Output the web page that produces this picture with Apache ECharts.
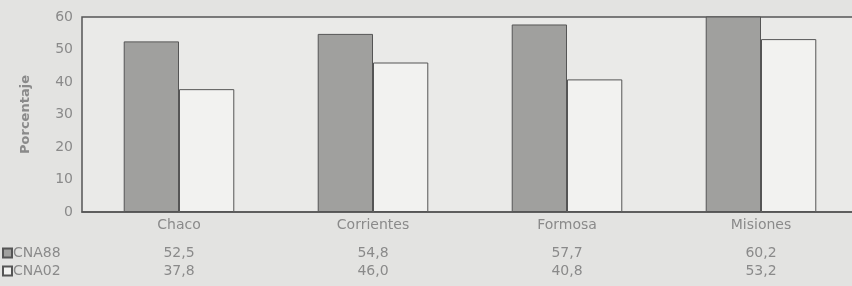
<!DOCTYPE html>
<html><head><meta charset="utf-8">
<script src="https://cdn.jsdelivr.net/npm/echarts@6/dist/echarts.min.js"></script>
<style>html,body{margin:0;padding:0;background:#e3e3e1;overflow:hidden;width:852px;height:286px;}#c{width:858px;height:286px;}</style>
</head><body><div id="c"></div>
<script>
const categories = ['Chaco', 'Corrientes', 'Formosa', 'Misiones'];
const cna88 = [52.5, 54.8, 57.7, 60.2];
const cna02 = [37.8, 46.0, 40.8, 53.2];
const yTicks = [0, 10, 20, 30, 40, 50, 60];
const fmt = v => v.toFixed(1).replace('.', ',');
const txt = '#8a8a8a';
const font = 'DejaVu Sans, sans-serif';
const fs = 14;
const legendText = {color: txt, fontSize: fs, fontFamily: font, padding: [0, 0, 0, -4]};
const chart = echarts.init(document.getElementById('c'), null, {renderer: 'canvas'});
chart.setOption({
  backgroundColor: '#e3e3e1',
  animation: false,
  grid: {left: 82, top: 17, right: 0, bottom: 74, show: true, borderColor: '#555', borderWidth: 1.5, backgroundColor: '#eaeae8', containLabel: false},
  legend: [
    {left: 0, top: 244, padding: 2, itemWidth: 9, itemHeight: 9, icon: 'rect', textStyle: legendText, data: ['CNA88']},
    {left: 0, top: 262, padding: 2, itemWidth: 9, itemHeight: 9, icon: 'rect', textStyle: legendText, data: ['CNA02']}
  ],
  xAxis: [
    {type: 'category', data: categories, axisLine: {show: true, lineStyle: {color: '#555', width: 1.5}}, axisTick: {show: false},
     axisLabel: {color: txt, fontSize: fs, fontFamily: font, margin: 6}},
    {type: 'category', data: cna88.map(fmt), position: 'bottom', offset: 28, gridIndex: 0,
     axisLine: {show: false}, axisTick: {show: false}, axisLabel: {color: txt, fontSize: fs, fontFamily: font, margin: 6}},
    {type: 'category', data: cna02.map(fmt), position: 'bottom', offset: 46, gridIndex: 0,
     axisLine: {show: false}, axisTick: {show: false}, axisLabel: {color: txt, fontSize: fs, fontFamily: font, margin: 6}}
  ],
  yAxis: {
    type: 'value', min: yTicks[0], max: yTicks[yTicks.length - 1], interval: 10,
    name: 'Porcentaje', nameLocation: 'middle', nameGap: 50, nameRotate: 90,
    nameTextStyle: {color: txt, fontSize: 13, fontWeight: 'bold', fontFamily: font},
    axisLine: {show: false}, axisTick: {show: false}, splitLine: {show: false},
    axisLabel: {color: txt, fontSize: fs, fontFamily: font, margin: 9}
  },
  series: [
    {name: 'CNA88', type: 'bar', data: cna88, barGap: '0%', barCategoryGap: '43%', clip: true,
     itemStyle: {color: '#a0a09e', borderColor: '#555', borderWidth: 1}},
    {name: 'CNA02', type: 'bar', data: cna02, barGap: '0%', barCategoryGap: '43%', clip: true,
     itemStyle: {color: '#f2f2f0', borderColor: '#555', borderWidth: 1}}
  ]
});
</script></body></html>
